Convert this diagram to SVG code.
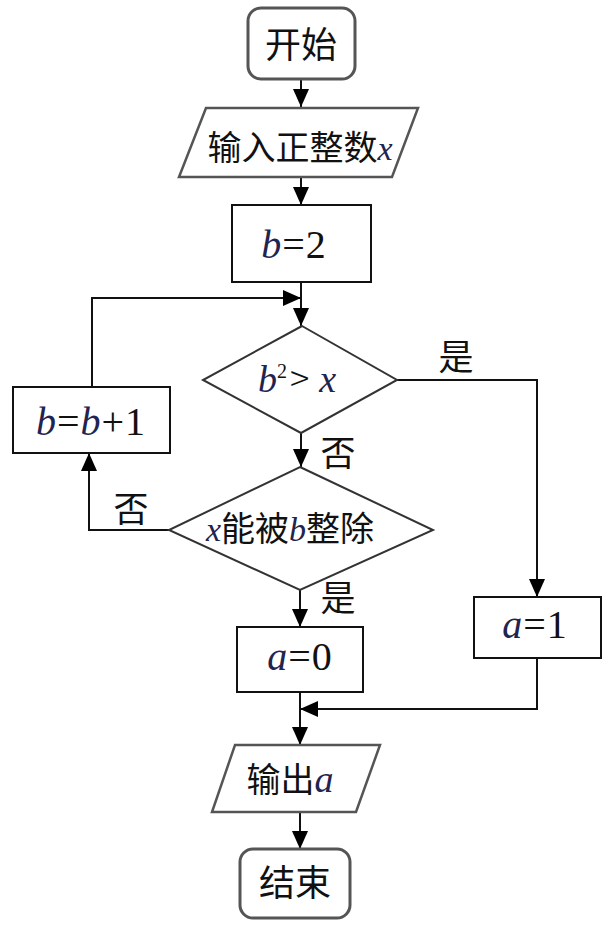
<svg xmlns="http://www.w3.org/2000/svg" width="616" height="928" viewBox="0 0 616 928">
<defs>
<marker id="arr" viewBox="0 0 18 16" refX="18" refY="8" markerWidth="18" markerHeight="16" markerUnits="userSpaceOnUse" orient="auto">
<path d="M0,0 L18,8 L0,16 z" fill="#000"/>
</marker>
<style>
.term{fill:#fff;stroke:#555;stroke-width:3}
.io{fill:#fff;stroke:#555;stroke-width:2.5}
.box{fill:#fff;stroke:#111;stroke-width:2}
.dia{fill:#fff;stroke:#333;stroke-width:2}
.cn{font-family:"Noto Sans CJK SC","Noto Sans CJK JP",sans-serif;fill:#111}
.m{font-family:"Liberation Serif",serif;font-style:italic;fill:#1f2450}
.n{font-family:"Liberation Serif",serif;fill:#111}
.con{fill:none;stroke:#111;stroke-width:2}
</style>
</defs>
<rect width="616" height="928" fill="#fff"/>
<g id="connectors">
<path class="con" d="M301,79 L301,107" marker-end="url(#arr)"/>
<path class="con" d="M301,178 L301,205" marker-end="url(#arr)"/>
<path class="con" d="M301,282 L301,326" marker-end="url(#arr)"/>
<path class="con" d="M92,387 L92,298 L301,298" marker-end="url(#arr)"/>
<path class="con" d="M397,380 L537,380 L537,597" marker-end="url(#arr)"/>
<path class="con" d="M301,433 L301,467" marker-end="url(#arr)"/>
<path class="con" d="M169,530 L89,530 L89,453" marker-end="url(#arr)"/>
<path class="con" d="M300,590 L300,627" marker-end="url(#arr)"/>
<path class="con" d="M537,658 L537,709 L300,709" marker-end="url(#arr)"/>
<path class="con" d="M300,692 L300,745" marker-end="url(#arr)"/>
<path class="con" d="M300,813 L300,849" marker-end="url(#arr)"/>
<text class="cn" x="456" y="370" font-size="35" text-anchor="middle">是</text>
<text class="cn" x="338" y="466" font-size="35" text-anchor="middle">否</text>
<text class="cn" x="131" y="522" font-size="35" text-anchor="middle">否</text>
<text class="cn" x="338" y="611" font-size="35" text-anchor="middle">是</text>
</g>
<g id="start">
<rect class="term" x="248" y="8" width="107" height="71" rx="13"/>
<text class="cn" x="301" y="58" font-size="36" text-anchor="middle">开始</text>
</g>
<g id="input">
<polygon class="io" points="206,108 418,108 392,177 179,177"/>
<text class="cn" x="300" y="160" font-size="34" text-anchor="middle">输入正整数<tspan class="m">x</tspan></text>
</g>
<g id="init">
<rect class="box" x="232" y="205" width="139" height="77"/>
<text x="294" y="258" font-size="40" text-anchor="middle" letter-spacing="1"><tspan class="m">b</tspan><tspan class="n">=2</tspan></text>
</g>
<g id="cond1">
<polygon class="dia" points="302,326 397,380 301,433 203,380"/>
<text x="297" y="392" font-size="38" text-anchor="middle"><tspan class="m">b</tspan><tspan class="n" font-size="20" dy="-14">2</tspan><tspan class="cn" dy="14" dx="3" font-size="36" font-weight="300" fill="#444">&gt;</tspan><tspan class="m" dx="10">x</tspan></text>
</g>
<g id="cond2">
<polygon class="dia" points="300,467 433,530 300,590 169,530"/>
<text class="cn" x="290" y="541" font-size="34" text-anchor="middle"><tspan class="m">x</tspan>能被<tspan class="m">b</tspan>整除</text>
</g>
<g id="inc">
<rect class="box" x="13" y="387" width="157" height="66"/>
<text x="91" y="435" font-size="40" text-anchor="middle" letter-spacing="1"><tspan class="m">b</tspan><tspan class="n">=</tspan><tspan class="m">b</tspan><tspan class="n">+1</tspan></text>
</g>
<g id="a0">
<rect class="box" x="237" y="627" width="126" height="65"/>
<text x="300" y="670" font-size="40" text-anchor="middle" letter-spacing="1"><tspan class="m">a</tspan><tspan class="n">=0</tspan></text>
</g>
<g id="a1">
<rect class="box" x="474" y="597" width="127" height="61"/>
<text x="535" y="638" font-size="40" text-anchor="middle" letter-spacing="1"><tspan class="m">a</tspan><tspan class="n">=1</tspan></text>
</g>
<g id="output">
<polygon class="io" points="235,745 380,745 356,812 212,812"/>
<text class="cn" x="290" y="792" font-size="34" text-anchor="middle">输出<tspan class="m" font-size="38">a</tspan></text>
</g>
<g id="end">
<rect class="term" x="240" y="849" width="110" height="69" rx="13"/>
<text class="cn" x="295" y="896" font-size="36" text-anchor="middle">结束</text>
</g>
</svg>
